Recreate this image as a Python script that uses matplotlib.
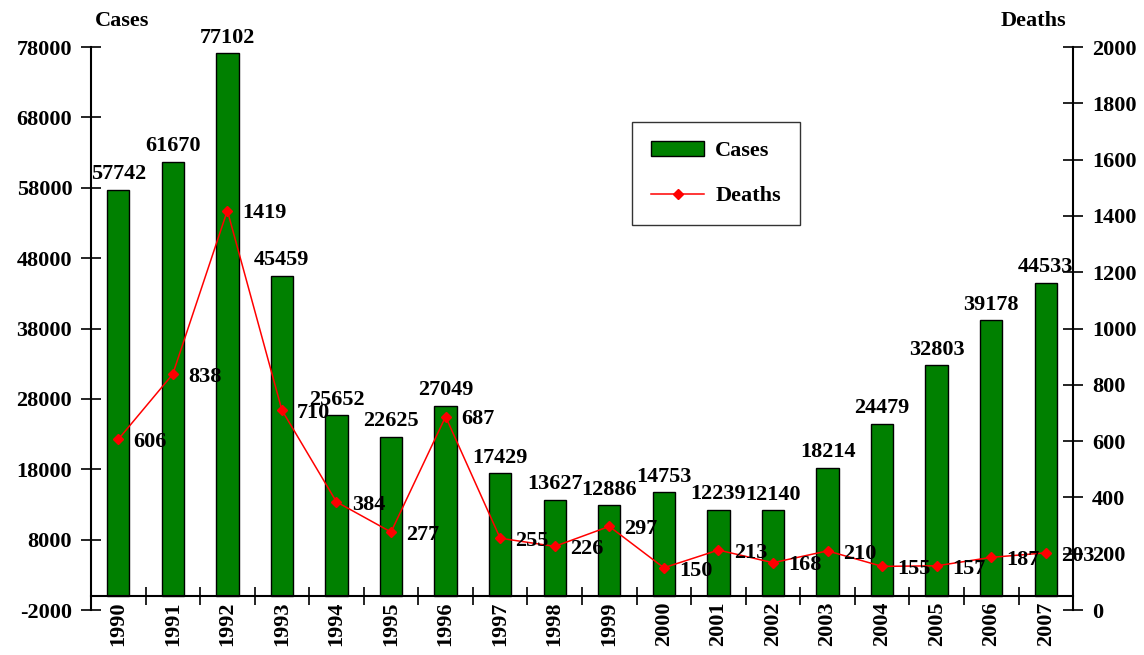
import matplotlib
matplotlib.use('Agg')
import matplotlib.pyplot as plt
import numpy as np

years = ['1990', '1991', '1992', '1993', '1994', '1995', '1996', '1997', '1998',
         '1999', '2000', '2001', '2002', '2003', '2004', '2005', '2006', '2007']
cases = [57742, 61670, 77102, 45459, 25652, 22625, 27049, 17429, 13627,
         12886, 14753, 12239, 12140, 18214, 24479, 32803, 39178, 44533]
deaths = [606, 838, 1419, 710, 384, 277, 687, 255, 226,
          297, 150, 213, 168, 210, 155, 157, 187, 203]

plt.rcParams['font.family'] = ['Liberation Serif', 'DejaVu Serif']
plt.rcParams['font.weight'] = 'bold'
plt.rcParams['axes.unicode_minus'] = False
fs = 16

fig = plt.figure(figsize=(11.44, 6.55), dpi=100)
ax1 = fig.add_axes([0.0795, 0.0687, 0.8585, 0.8595])
ax2 = ax1.twinx()

x = np.arange(len(years))
bars = ax1.bar(x, cases, width=0.41, color='#008000', edgecolor='black',
               linewidth=1, label='Cases', zorder=2)
line, = ax2.plot(x, deaths, color='red', marker='D', markersize=5.5,
                 linewidth=1.1, label='Deaths', zorder=3)

for xi, v in zip(x, cases):
    ax1.annotate(str(v), (xi, v), xytext=(0, 4), textcoords='offset points',
                 ha='center', va='bottom', fontsize=fs, fontweight='bold')
for xi, v in zip(x, deaths):
    ax2.annotate(str(v), (xi, v), xytext=(11, -2), textcoords='offset points',
                 ha='left', va='center', fontsize=fs, fontweight='bold')

ax1.set_xlim(-0.5, len(years) - 0.5)
ax1.set_ylim(-2000, 78000)
ax1.set_yticks(np.arange(-2000, 78001, 10000))
ax2.set_ylim(0, 2000)
ax2.set_yticks(np.arange(0, 2001, 200))

ax1.set_xticks(x)
ax1.set_xticks(np.arange(0.5, len(years) - 1, 1), minor=True)
ax1.set_xticklabels(years)
ax1.tick_params(axis='x', which='major', length=0, pad=4, labelsize=fs,
                labelrotation=90)
ax1.tick_params(axis='x', which='minor', direction='inout', length=13, width=1.2)
ax1.tick_params(axis='y', direction='inout', length=15, width=1.2, labelsize=fs, pad=6)
ax2.tick_params(axis='y', direction='inout', length=15, width=1.2, labelsize=fs, pad=6)
for lab in ax1.get_yticklabels() + ax2.get_yticklabels() + ax1.get_xticklabels():
    lab.set_fontweight('bold')

ax1.spines['bottom'].set_position(('data', 0))
ax1.spines['top'].set_visible(False)
ax1.spines['right'].set_visible(False)
ax1.spines['left'].set_linewidth(1.5)
ax1.spines['bottom'].set_linewidth(1.5)
for s in ['top', 'bottom', 'left']:
    ax2.spines[s].set_visible(False)
ax2.spines['right'].set_linewidth(1.5)

fig.text(0.083, 0.968, 'Cases', ha='left', va='center', fontsize=fs, fontweight='bold')
fig.text(0.932, 0.968, 'Deaths', ha='right', va='center', fontsize=fs, fontweight='bold')

leg = fig.legend([bars, line], ['Cases', 'Deaths'], loc='upper left',
                 bbox_to_anchor=(0.5524, 0.8137), fontsize=fs, frameon=True,
                 fancybox=False, handlelength=2.4, labelspacing=1.1,
                 borderpad=0.85, handletextpad=0.5, borderaxespad=0)
leg.get_frame().set_edgecolor('black')
leg.get_frame().set_linewidth(1)
for t in leg.get_texts():
    t.set_fontweight('bold')

fig.savefig('out.png', dpi=100)
